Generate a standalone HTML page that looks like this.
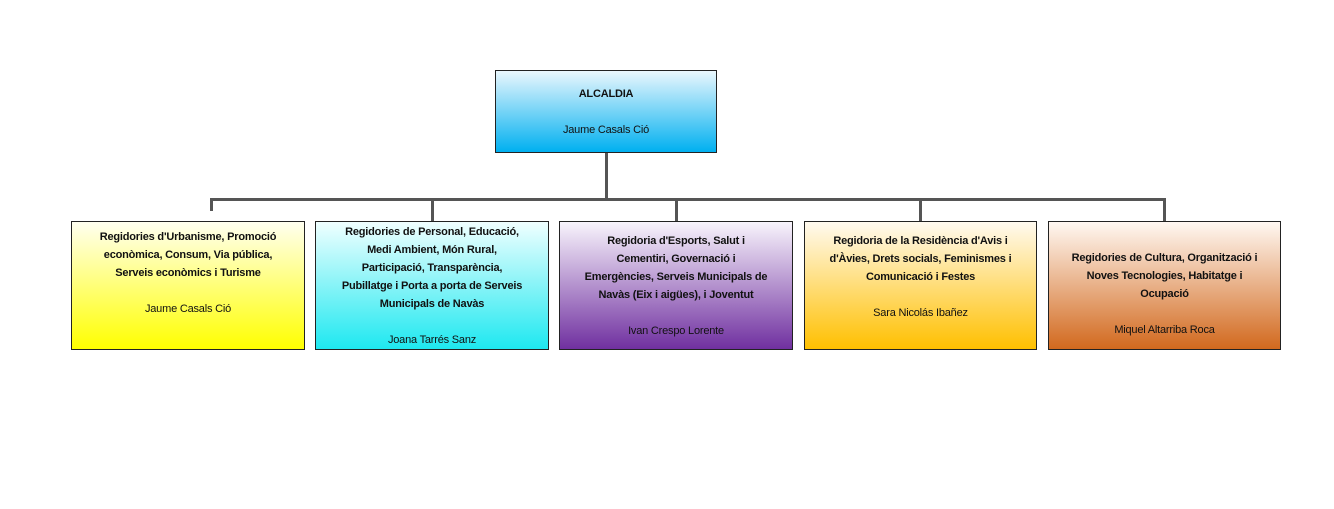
<!DOCTYPE html>
<html><head><meta charset="utf-8"><style>
body{margin:0;width:1334px;height:509px;background:#fff;position:relative;overflow:hidden;font-family:"Liberation Sans",sans-serif;}
.b{position:absolute;border:1px solid #222;box-sizing:border-box;text-align:center;font-size:11px;line-height:18px;color:#111;letter-spacing:-0.2px;white-space:nowrap}
.b b{display:block}
.l{position:absolute;background:#555}
</style></head><body>
<div class="l" style="left:210px;top:198px;width:956px;height:3px"></div>
<div class="l" style="left:605px;top:152px;width:3px;height:48px"></div>
<div class="l" style="left:210px;top:198px;width:3px;height:13px"></div>
<div class="l" style="left:431px;top:198px;width:3px;height:23px"></div>
<div class="l" style="left:675px;top:198px;width:3px;height:23px"></div>
<div class="l" style="left:919px;top:198px;width:3px;height:23px"></div>
<div class="l" style="left:1163px;top:198px;width:3px;height:23px"></div>

<div class="b" style="left:495px;top:70px;width:222px;height:83px;background:linear-gradient(#eaf7fd,#00b0f0);padding-top:14px"><b>ALCALDIA</b><br>Jaume Casals Ció</div>

<div class="b" style="left:71px;top:221px;width:234px;height:129px;background:linear-gradient(#fffff0,#ffff00);padding-top:6px"><b>Regidories d'Urbanisme, Promoció<br>econòmica, Consum, Via pública,<br>Serveis econòmics i Turisme</b><br>Jaume Casals Ció</div>

<div class="b" style="left:315px;top:221px;width:234px;height:129px;background:linear-gradient(#f0ffff,#1ee8f0);padding-top:1px"><b>Regidories de Personal, Educació,<br>Medi Ambient, Món Rural,<br>Participació, Transparència,<br>Pubillatge i Porta a porta de Serveis<br>Municipals de Navàs</b><br>Joana Tarrés Sanz</div>

<div class="b" style="left:559px;top:221px;width:234px;height:129px;background:linear-gradient(#f8f4fc,#7030a0);padding-top:10px"><b>Regidoria d'Esports, Salut i<br>Cementiri, Governació i<br>Emergències, Serveis Municipals de<br>Navàs (Eix i aigües), i Joventut</b><br>Ivan Crespo Lorente</div>

<div class="b" style="left:804px;top:221px;width:233px;height:129px;background:linear-gradient(#fffaf0,#ffc000);padding-top:10px"><b>Regidoria de la Residència d'Avis i<br>d'Àvies, Drets socials, Feminismes i<br>Comunicació i Festes</b><br>Sara Nicolás Ibañez</div>

<div class="b" style="left:1048px;top:221px;width:233px;height:129px;background:linear-gradient(#fff8f2,#d2691e);padding-top:27px"><b>Regidories de Cultura, Organització i<br>Noves Tecnologies, Habitatge i<br>Ocupació</b><br>Miquel Altarriba Roca</div>
</body></html>
